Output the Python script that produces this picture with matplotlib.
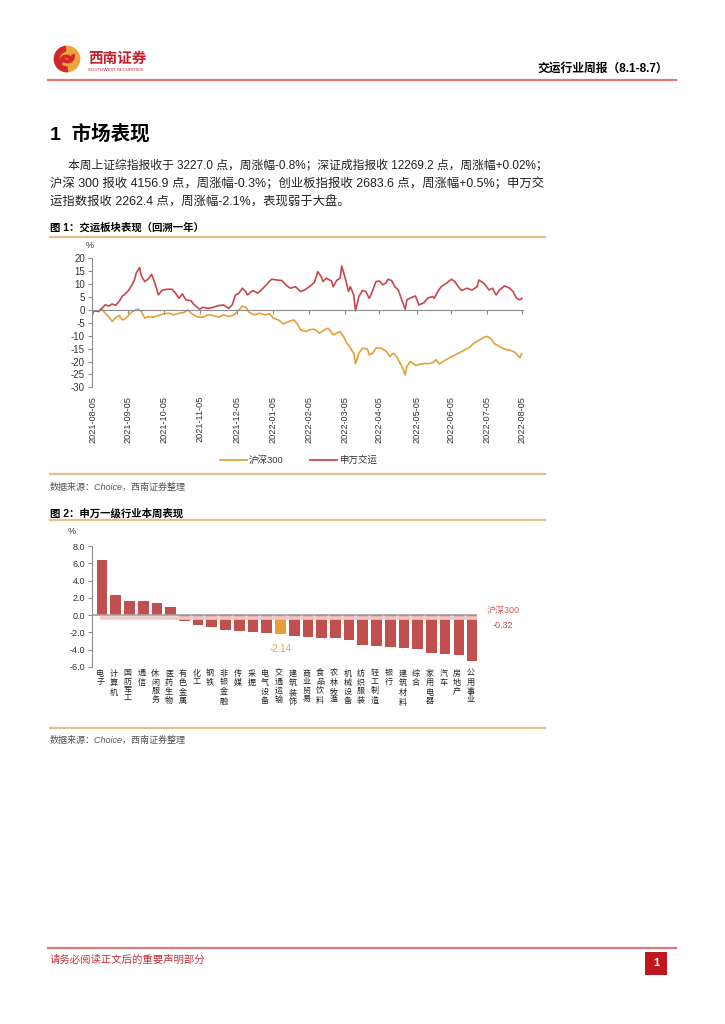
import matplotlib
matplotlib.use('Agg')
import matplotlib.pyplot as plt
import matplotlib.transforms as mtransforms
from matplotlib.lines import Line2D
from matplotlib.patches import Rectangle, Circle, Wedge

plt.rcParams['font.family'] = ['Liberation Sans', 'Noto Sans CJK SC', 'DejaVu Sans']
plt.rcParams['axes.unicode_minus'] = False

# ---- chart 1 data: trading day number (0 = 2021-08-05) and cumulative change, %
red_days = [0, 3, 5, 7, 9, 11, 13, 15, 17, 18, 20, 22, 24, 25, 27, 28, 30, 32, 34, 36,
            38, 40, 43, 46, 48, 50, 52, 54, 57, 59, 62, 64, 67, 70, 73, 76, 79, 81, 83, 85,
            87, 89, 90, 93, 96, 98, 101, 104, 107, 110, 113, 115, 118, 121, 124, 126, 129, 131, 133, 134,
            136, 139, 140, 142, 144, 145, 147, 149, 150, 152, 153, 155, 157, 159, 161, 162, 165, 167, 169, 171,
            172, 174, 176, 178, 180, 182, 183, 186, 188, 190, 193, 195, 198, 199, 201, 203, 206, 209, 211, 213,
            215, 218, 221, 224, 225, 228, 231, 233, 235, 237, 240, 243, 245, 247, 249, 250]
red_vals = [-0.3, -0.6, 0.6, 2.0, 1.5, 2.3, 1.8, 3.2, 5.4, 5.8, 7.1, 9.0, 11.6, 14.2, 16.4, 13.2, 11.0, 11.9, 13.8, 10.3,
            5.8, 7.5, 8.0, 8.0, 6.5, 4.5, 6.2, 3.9, 3.5, 1.9, 0.3, 1.0, 0.6, 1.0, 1.7, 1.9, 0.6, 1.9, 5.8, 6.5,
            8.4, 7.1, 5.8, 7.5, 6.5, 7.7, 9.7, 11.9, 11.6, 11.4, 9.3, 8.4, 9.0, 7.1, 8.0, 9.0, 10.6, 14.8, 12.9, 11.0,
            12.3, 11.2, 9.0, 11.4, 12.3, 17.0, 12.3, 7.1, 9.0, 5.8, -0.3, 5.2, 7.5, 7.1, 4.5, 5.8, 11.0, 11.2, 9.7, 10.6,
            11.9, 11.4, 9.0, 7.7, 3.9, 0.3, 3.9, 4.9, 5.4, 1.9, 2.8, 4.5, 5.2, 4.5, 7.1, 9.0, 10.3, 11.9, 11.0, 9.0,
            7.5, 8.4, 7.7, 9.0, 11.6, 10.3, 7.7, 8.4, 5.8, 7.7, 9.3, 8.4, 7.1, 4.5, 3.9, 4.5]

hs_days = [0, 3, 5, 7, 9, 11, 13, 15, 17, 18, 20, 22, 24, 26, 28, 30, 32, 35, 38, 41,
           44, 47, 50, 53, 55, 58, 61, 64, 67, 70, 73, 76, 79, 82, 85, 87, 89, 91, 94, 97,
           100, 103, 105, 108, 111, 114, 117, 119, 121, 124, 126, 129, 132, 135, 137, 140, 142, 144, 146, 148,
           150, 152, 153, 155, 157, 160, 161, 163, 165, 168, 171, 173, 175, 177, 179, 181, 182, 183, 185, 188,
           191, 193, 196, 198, 200, 202, 205, 208, 211, 213, 216, 219, 222, 225, 228, 230, 232, 234, 237, 240,
           243, 246, 249, 250]
hs_vals = [-0.3, -0.6, 0.3, -1.3, -2.6, -4.5, -3.0, -2.2, -3.9, -3.6, -2.6, -1.0, -0.3, 0.3, -0.6, -3.2, -2.6, -2.8, -2.2, -1.5,
           -1.3, -1.9, -1.3, -1.0, 0.0, -1.7, -2.8, -2.8, -1.9, -2.2, -2.8, -1.9, -2.6, -1.9, 0.0, 1.5, 1.0, -1.0, -1.9, -1.3,
           -1.9, -1.5, -3.2, -3.9, -5.4, -4.5, -3.9, -5.4, -7.7, -8.4, -7.7, -7.5, -9.0, -7.7, -7.1, -9.7, -9.0, -8.4, -10.3, -12.9,
           -14.8, -16.8, -20.9, -16.8, -14.8, -15.2, -17.4, -16.8, -14.8, -14.8, -16.1, -18.1, -16.8, -18.1, -20.6, -23.2, -25.2, -21.9, -20.0, -21.5,
           -21.0, -20.8, -20.8, -20.5, -19.3, -21.0, -19.6, -18.5, -17.5, -16.8, -15.8, -14.8, -13.0, -11.8, -10.6, -10.3, -11.2, -13.0, -14.2, -15.2,
           -15.6, -16.4, -18.6, -17.0]

tick_days = [0, 20, 41, 62, 84, 105, 126, 147, 167, 189, 209, 230, 250]
tick_labels = ['2021-08-05', '2021-09-05', '2021-10-05', '2021-11-05', '2021-12-05', '2022-01-05', '2022-02-05',
               '2022-03-05', '2022-04-05', '2022-05-05', '2022-06-05', '2022-07-05', '2022-08-05']

# ---- chart 2 data: weekly change of Shenwan level-1 industries, %
industries = ['电子', '计算机', '国防军工', '通信', '休闲服务', '医药生物', '有色金属', '化工', '钢铁', '非银金融',
              '传媒', '采掘', '电气设备', '交通运输', '建筑装饰', '商业贸易', '食品饮料', '农林牧渔', '机械设备', '纺织服装',
              '轻工制造', '银行', '建筑材料', '综合', '家用电器', '汽车', '房地产', '公用事业']
weekly = [6.35, 2.35, 1.65, 1.65, 1.35, 0.95, -0.7, -1.1, -1.4, -1.7,
          -1.85, -1.95, -2.1, -2.14, -2.38, -2.5, -2.7, -2.7, -2.85, -3.4,
          -3.55, -3.7, -3.85, -3.95, -4.35, -4.5, -4.65, -5.35]
hs300_week = -0.32

RED = '#C9474C'
ORANGE = '#E5A03A'
BAR = '#C0504D'
TAN = '#E8C08C'
GRAY = '#8C8C8C'

W, H = 725, 1024
fig = plt.figure(figsize=(7.25, 10.24), dpi=100)


def fx(px):
    return px / W


def fy(py):
    return 1 - py / H


def add_ax(x0, y0, x1, y1):
    return fig.add_axes([fx(x0), fy(y1), (x1 - x0) / W, (y1 - y0) / H])


def hline(y, x0, x1, color, lw):
    fig.add_artist(Line2D([fx(x0), fx(x1)], [fy(y), fy(y)], color=color, lw=lw))


# ---- page header
lax = add_ax(53, 45, 81, 73)
lax.set_xlim(-1.05, 1.05)
lax.set_ylim(-1.05, 1.05)
lax.set_aspect('equal')
lax.axis('off')
lax.add_patch(Circle((0, 0), 1, fc='#E9A43A', ec='none'))
lax.add_patch(Wedge((0, 0), 1, 95, 275, width=0.45, fc='#D0262D', ec='none'))
lax.add_patch(Wedge((0.05, 0.22), 0.55, 200, 380, width=0.28, fc='#D0262D', ec='none'))
lax.add_patch(Wedge((-0.05, -0.22), 0.55, 20, 200, width=0.28, fc='#D0262D', ec='none'))
fig.text(fx(88), fy(59), '西南证券', fontsize=10.5, color='#C8202A', fontweight='bold', va='center')
fig.text(fx(88), fy(70), 'SOUTHWEST SECURITIES', fontsize=3.2, color='#C8202A', va='center')
fig.text(fx(668), fy(69), '交运行业周报（8.1-8.7）', fontsize=8.5, fontweight='bold', ha='right', va='center')
hline(80, 48, 676, '#E07A7A', 1.6)

fig.text(fx(50), fy(134), '1  市场表现', fontsize=14, fontweight='bold', va='center')
para = ['本周上证综指报收于 3227.0 点，周涨幅-0.8%；深证成指报收 12269.2 点，周涨幅+0.02%；',
        '沪深 300 报收 4156.9 点，周涨幅-0.3%；创业板指报收 2683.6 点，周涨幅+0.5%；申万交',
        '运指数报收 2262.4 点，周涨幅-2.1%，表现弱于大盘。']
fig.text(fx(68), fy(165), para[0], fontsize=8.5, va='center', color='#222222')
fig.text(fx(50), fy(184), para[1], fontsize=8.9, va='center', color='#222222')
fig.text(fx(50), fy(203), para[2], fontsize=8.9, va='center', color='#222222')

# ---- figure 1
fig.text(fx(50), fy(228), '图 1：交运板块表现（回溯一年）', fontsize=7.5, fontweight='bold', va='center')
hline(237, 50, 545, TAN, 1.6)

ax1 = add_ax(92, 258.3, 523, 387.3)
ax1.plot(hs_days, hs_vals, color=ORANGE, lw=1.2)
ax1.plot(red_days, red_vals, color=RED, lw=1.2)
ax1.set_xlim(-0.76, 250.76)
ax1.set_ylim(-30, 20)
ax1.set_yticks(range(-30, 21, 5))
ax1.set_xticks(tick_days)
for s in ['top', 'right']:
    ax1.spines[s].set_visible(False)
ax1.spines['bottom'].set_position(('data', 0))
ax1.spines['bottom'].set_color(GRAY)
ax1.spines['left'].set_color(GRAY)
ax1.tick_params(axis='x', length=3, color=GRAY, labelbottom=False)
ax1.tick_params(axis='y', length=3, color=GRAY, labelsize=7, labelcolor='#333333', pad=2)
ax1.patch.set_alpha(0)
tr1 = mtransforms.blended_transform_factory(ax1.transData, fig.transFigure)
for d, lab in zip(tick_days, tick_labels):
    ax1.text(d, fy(396), lab, transform=tr1, rotation=90, ha='center', va='top', fontsize=6.6, color='#333333')
fig.text(fx(90), fy(245), '%', fontsize=6.5, ha='center', va='center', color='#333333')

fig.add_artist(Line2D([fx(220), fx(247)], [fy(460), fy(460)], color=ORANGE, lw=1.3))
fig.text(fx(249), fy(460), '沪深300', fontsize=6.8, va='center', color='#333333')
fig.add_artist(Line2D([fx(310), fx(337)], [fy(460), fy(460)], color=RED, lw=1.3))
fig.text(fx(340), fy(460), '申万交运', fontsize=6.8, va='center', color='#333333')

hline(474, 50, 545, TAN, 1.6)
fig.text(fx(50), fy(487), '数据来源：Choice，西南证券整理', fontsize=6.5, style='italic', va='center', color='#555555')

# ---- figure 2
fig.text(fx(50), fy(513), '图 2：申万一级行业本周表现', fontsize=7.5, fontweight='bold', va='center')
hline(520, 50, 545, TAN, 1.6)

ax2 = add_ax(92, 546, 476.7, 667)
pos = list(range(len(industries)))
colors = [ORANGE if n == '交通运输' else BAR for n in industries]
ax2.bar(pos, weekly, width=0.78, color=colors, zorder=2)
ax2.hlines(hs300_week, -0.15, len(industries) - 0.7, color='#F3C6C6', lw=2.6, zorder=3)
ax2.axhline(0, color='#A0A0A0', lw=1.2, zorder=4)
ax2.set_xlim(-0.73, len(industries) - 0.7)
ax2.set_ylim(-6, 8)
ax2.set_yticks(range(-6, 9, 2))
ax2.set_yticklabels(['%.1f' % v for v in range(-6, 9, 2)])
ax2.set_xticks([])
for s in ['top', 'right', 'bottom']:
    ax2.spines[s].set_visible(False)
ax2.spines['left'].set_color(GRAY)
ax2.tick_params(axis='y', length=3, color=GRAY, labelsize=6.5, labelcolor='#333333', pad=2)
ax2.patch.set_alpha(0)
i_jt = industries.index('交通运输')
ax2.text(i_jt, weekly[i_jt] - 1.8, '%.2f' % weekly[i_jt], ha='center', va='center', fontsize=7, color=ORANGE)
tr2 = mtransforms.blended_transform_factory(ax2.transData, fig.transFigure)
for i, n in enumerate(industries):
    ax2.text(i - 0.12, fy(670), '\n'.join(n), transform=tr2, ha='center', va='top', fontsize=5.8,
             linespacing=1.25, color='#222222')
fig.text(fx(72), fy(531), '%', fontsize=6.5, ha='center', va='center', color='#333333')
fig.text(fx(503), fy(611), '沪深300', fontsize=6.5, ha='center', va='center', color='#D06060')
fig.text(fx(503), fy(625), '%.2f' % hs300_week, fontsize=6.5, ha='center', va='center', color='#C0504D')

hline(728, 50, 545, TAN, 1.6)
fig.text(fx(50), fy(740), '数据来源：Choice，西南证券整理', fontsize=6.5, style='italic', va='center', color='#555555')

# ---- footer
hline(948, 48, 676, '#E07A7A', 1.6)
fig.text(fx(50), fy(960), '请务必阅读正文后的重要声明部分', fontsize=7.5, color='#C8313A', va='center')
fig.add_artist(Rectangle((fx(645), fy(975)), 22 / W, 23 / H, transform=fig.transFigure,
                         fc='#C0161F', ec='none'))
fig.text(fx(656), fy(963.5), '1', fontsize=8, fontweight='bold', color='white', ha='center', va='center')

fig.savefig('out.png', dpi=100)
